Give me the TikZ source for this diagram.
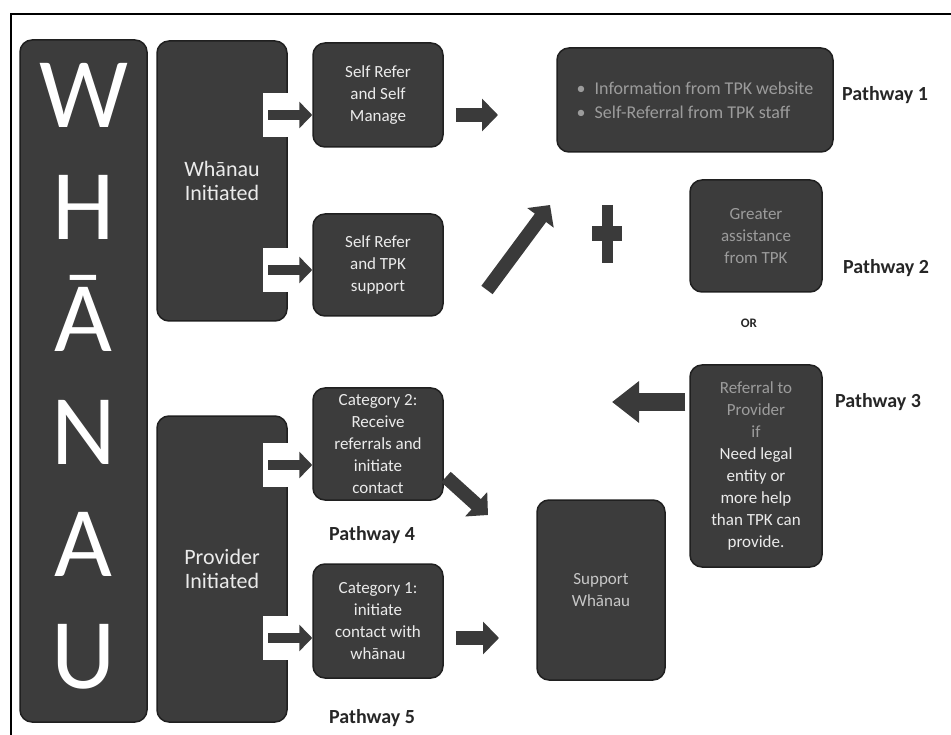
\documentclass[tikz,border=0pt]{standalone}
\usepackage{fontspec}
\setmainfont{Carlito}
\usepackage{xcolor}
\usepackage{tikz}
\usetikzlibrary{
    positioning,
    arrows.meta,
    calc
}
\definecolor{boxfill}{HTML}{3C3C3C}
\definecolor{boxline}{HTML}{202020}
\definecolor{arrowfill}{HTML}{3A3A3A}
\definecolor{fadetext}{HTML}{9C9C9C}
\tikzset{
  basic/.style = {
      draw=boxline,
      fill=boxfill,
      line width=1.5pt,
      rounded corners=12pt,
      align=center,
      text=white!92!black,
      font=\fontsize{17}{22}\selectfont,
      inner sep=0pt
  },
  stepbox/.style = {
      basic,
      minimum width=130pt
  },
  side/.style = {
      basic,
      minimum width=130pt,
      font=\fontsize{22}{24}\selectfont
  },
  letter/.style = {
      text=white,
      font=\fontsize{100}{100}\selectfont,
      anchor=base
  },
  tag/.style = {
      font=\fontsize{20}{22}\selectfont\bfseries,
      text=black!85
  },
  notch/.style = {
      fill=white,
      draw=none
  },
  small arrow/.style = {
      arrowfill,
      line width=10pt,
      -{Triangle[length=13pt,width=26pt]}
  },
  mid arrow/.style = {
      arrowfill,
      line width=14pt,
      -{Triangle[length=16pt,width=32pt]}
  },
  big arrow/.style = {
      arrowfill,
      line width=17pt,
      -{Triangle[length=27pt,width=40pt]}
  }
}

\begin{document}
\begin{tikzpicture}[x=1pt, y=-1pt]
    \useasboundingbox (0,0) rectangle (951,735);
    % Frame
    \draw[line width=2pt] (951,14) -- (11,14) -- (11,735);
    % Whanau column
    \node[basic, minimum width=127pt, minimum height=682pt] (whanau) at (83.5,381) {};
    \foreach \l [count=\i] in {W,H,Ā,N,A,U}
        \node[letter] (l\i) at (83.5,{128+112*(\i-1)}) {\l};
    % Initiated boxes
    \node[side, minimum height=280pt] (wi) at (222,181) {Whānau\\Initiated};
    \node[side, minimum height=306pt] (pi) at (222,569) {Provider\\Initiated};
    \fill[notch] (263,93) rectangle (291,137);
    \fill[notch] (263,248) rectangle (291,292);
    \fill[notch] (263,443) rectangle (291,487);
    \fill[notch] (263,616) rectangle (291,660);
    % Steps
    \node[stepbox, minimum height=104pt] (sm) at (378,95) {Self Refer\\and Self\\Manage};
    \node[stepbox, minimum height=102pt] (tpk) at (378,265) {Self Refer\\and TPK\\support};
    \node[stepbox, minimum height=112pt] (cat2) at (378,444) {Category 2:\\Receive\\referrals and\\initiate\\contact};
    \node[stepbox, minimum height=114pt] (cat1) at (378,621) {Category 1:\\initiate\\contact with\\whānau};
    \node[basic, minimum width=276pt, minimum height=104pt, align=left, text=fadetext,
        font=\fontsize{18}{24}\selectfont] (p1) at (695,100)
        {\textbullet\enspace Information from TPK website\\\textbullet\enspace Self-Referral from TPK staff};
    \node[basic, minimum width=132pt, minimum height=112pt, text=fadetext] (p2) at (756,236) {Greater\\assistance\\from TPK};
    \node[basic, minimum width=132pt, minimum height=202pt] (p3) at (756,466)
        {\textcolor{fadetext}{Referral to}\\\textcolor{fadetext}{Provider}\\\textcolor{fadetext}{if}\\Need legal\\entity or\\more help\\than TPK can\\provide.};
    \node[basic, minimum width=128pt, minimum height=180pt, text=white!78!black] (sup) at (601,590) {Support\\Whānau};
    % Labels
    \node[tag] (t1) at (885,95) {Pathway 1};
    \node[tag] (t2) at (886,268) {Pathway 2};
    \node[tag] (t3) at (878,402) {Pathway 3};
    \node[tag] (t4) at (372,535) {Pathway 4};
    \node[tag] (t5) at (372,718) {Pathway 5};
    \node[tag, font=\fontsize{13}{15}\selectfont\bfseries] (or) at (749,323) {OR};
    % Arrows
    \coordinate (a1) at (268,115);
    \coordinate (a2) at (268,270);
    \coordinate (a3) at (268,465);
    \coordinate (a4) at (268,638);
    \draw[small arrow] (a1) -- (a1 -| sm.west);
    \draw[small arrow] (a2) -- (a2 -| tpk.west);
    \draw[small arrow] (a3) -- (a3 -| cat2.west);
    \draw[small arrow] (a4) -- (a4 -| cat1.west);
    \coordinate (r1) at (498,115);
    \draw[mid arrow] ([xshift=12pt]sm.east |- r1) -- (r1);
    \coordinate (ne) at (550,205);
    \draw[mid arrow] (487,290) -- (ne);
    \coordinate (se) at (488,515);
    \draw[mid arrow] (446,477) -- (se);
    \coordinate (r5) at (499,638);
    \draw[mid arrow] ([xshift=12pt]cat1.east |- r5) -- (r5);
    \coordinate (l3) at (612,402);
    \draw[big arrow] ([xshift=-4pt]l3 -| p3.west) -- (l3);
    % Plus
    \draw[arrowfill, line width=11pt] (607,205) -- (607,263);
    \draw[arrowfill, line width=15pt] (592,234) -- (622,234);
\end{tikzpicture}
\end{document}
